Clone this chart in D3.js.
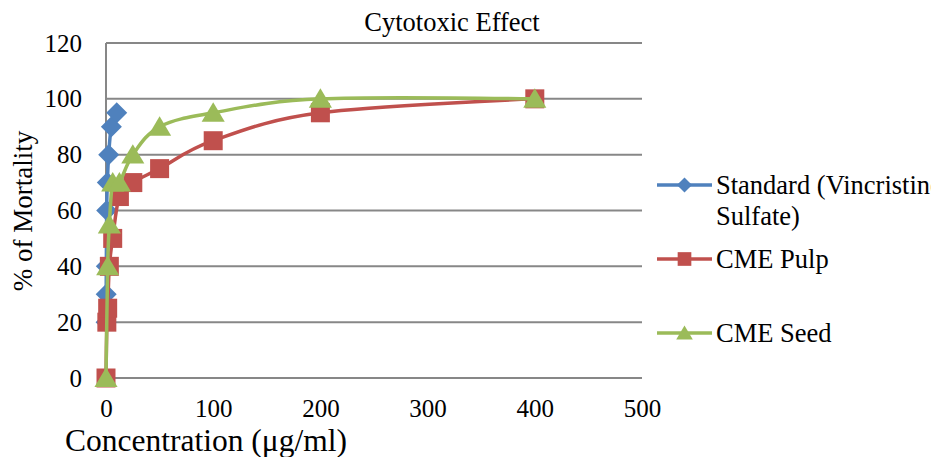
<!DOCTYPE html>
<html>
<head>
<meta charset="utf-8">
<script src="https://cdn.jsdelivr.net/npm/d3@7"></script>
<style>
  body { margin: 0; background: #fff; }
</style>
</head>
<body>
<div id="chart"></div>
<script>
// values
const seriesNames = ["Standard (Vincristine Sulfate)", "CME Pulp", "CME Seed"];
const standardConc = [0.078, 0.156, 0.3125, 0.625, 1.25, 2.5, 5, 10];
const standardMort = [20, 30, 40, 60, 70, 80, 90, 95];
const pulpConc = [0, 0.78, 1.56, 3.125, 6.25, 12.5, 25, 50, 100, 200, 400];
const pulpMort = [0, 20, 25, 40, 50, 65, 70, 75, 85, 95, 100];
const seedConc = [0, 1.56, 3.125, 6.25, 12.5, 25, 50, 100, 200, 400];
const seedMort = [0, 40, 55, 70, 70, 80, 90, 95, 100, 100];
const xTicks = [0, 100, 200, 300, 400, 500];
const yTicks = [0, 20, 40, 60, 80, 100, 120];
const colors = ["#4F81BD", "#C0504D", "#9BBB59"];
const markers = ["diamond", "square", "triangle"];

const FONT = "'Liberation Serif', 'Times New Roman', Times, serif";
const W = 935, H = 457;
const svg = d3.select("#chart").append("svg")
  .attr("width", W).attr("height", H)
  .attr("font-family", FONT);

const x = d3.scaleLinear().domain([0, 500]).range([106, 642]);
const y = d3.scaleLinear().domain([0, 120]).range([378, 43]);

const series = [
  {name: seriesNames[0], pts: standardConc.map((c, i) => [c, standardMort[i]])},
  {name: seriesNames[1], pts: pulpConc.map((c, i) => [c, pulpMort[i]])},
  {name: seriesNames[2], pts: seedConc.map((c, i) => [c, seedMort[i]])}
];

// gridlines
svg.append("g").selectAll("line").data(yTicks).join("line")
  .attr("x1", x(0)).attr("x2", x(500))
  .attr("y1", d => y(d)).attr("y2", d => y(d))
  .attr("stroke", "#878787").attr("stroke-width", 2);
svg.append("line")
  .attr("x1", x(0)).attr("x2", x(0)).attr("y1", y(0)).attr("y2", y(120))
  .attr("stroke", "#878787").attr("stroke-width", 2);

// axes (labels only)
const yAxis = svg.append("g").attr("transform", `translate(${x(0) - 24},0)`)
  .call(d3.axisLeft(y).tickValues(yTicks).tickSize(0).tickPadding(0));
yAxis.attr("font-family", FONT).attr("font-size", 25);
yAxis.select(".domain").remove();
yAxis.selectAll("text").attr("fill", "#000");

const xAxis = svg.append("g").attr("transform", `translate(0,${y(0) + 21})`)
  .call(d3.axisBottom(x).tickValues(xTicks).tickSize(0).tickPadding(0));
xAxis.attr("font-family", FONT).attr("font-size", 25);
xAxis.select(".domain").remove();
xAxis.selectAll("text").attr("fill", "#000");

const symbolFor = (m, s) => {
  if (m === "diamond") return `M0,${-s}L${s},0L0,${s}L${-s},0Z`;
  if (m === "square") return `M${-s},${-s}H${s}V${s}H${-s}Z`;
  return `M0,${-s}L${s * 1.1},${s * 0.85}L${-s * 1.1},${s * 0.85}Z`;
};
const sizes = {diamond: 10.5, square: 9.5, triangle: 10.5};

const line = d3.line().x(d => x(d[0])).y(d => y(d[1])).curve(d3.curveCardinal.tension(0));

series.forEach((s, i) => {
  const g = svg.append("g");
  g.append("path").datum(s.pts)
    .attr("d", line)
    .attr("fill", "none")
    .attr("stroke", colors[i])
    .attr("stroke-width", 3.5)
    .attr("stroke-linejoin", "round");
  g.selectAll("path.mk").data(s.pts).join("path")
    .attr("class", "mk")
    .attr("transform", d => `translate(${x(d[0])},${y(d[1])})`)
    .attr("d", symbolFor(markers[i], sizes[markers[i]]))
    .attr("fill", colors[i]);
});

// title
svg.append("text").attr("x", 452).attr("y", 31).attr("text-anchor", "middle")
  .attr("font-size", 26.5).text("Cytotoxic Effect");

// axis titles
svg.append("text").attr("transform", "translate(32,211) rotate(-90)")
  .attr("text-anchor", "middle").attr("font-size", 27).text("% of Mortality");
svg.append("text").attr("x", 65).attr("y", 451)
  .attr("font-size", 31.5).text("Concentration (μg/ml)");

// legend (the first label runs past the right edge, as in the reference)
svg.append("clipPath").attr("id", "lgclip").append("rect")
  .attr("x", 640).attr("y", 0).attr("width", 291).attr("height", H);
const legend = svg.append("g").attr("clip-path", "url(#lgclip)");
const legendY = [185, 259, 333];
series.forEach((s, i) => {
  const g = legend.append("g").attr("transform", `translate(0,${legendY[i]})`);
  g.append("line").attr("x1", 657).attr("x2", 712)
    .attr("stroke", colors[i]).attr("stroke-width", 3.5);
  g.append("path").attr("transform", "translate(684.5,0)")
    .attr("d", symbolFor(markers[i], sizes[markers[i]] * 0.72))
    .attr("fill", colors[i]);
  const lines = i === 0 ? ["Standard (Vincristine", "Sulfate)"] : [s.name];
  lines.forEach((t, k) => {
    g.append("text").attr("x", 716).attr("y", k * 31 + 9)
      .attr("font-size", 26.5).text(t);
  });
});
</script>
</body>
</html>
